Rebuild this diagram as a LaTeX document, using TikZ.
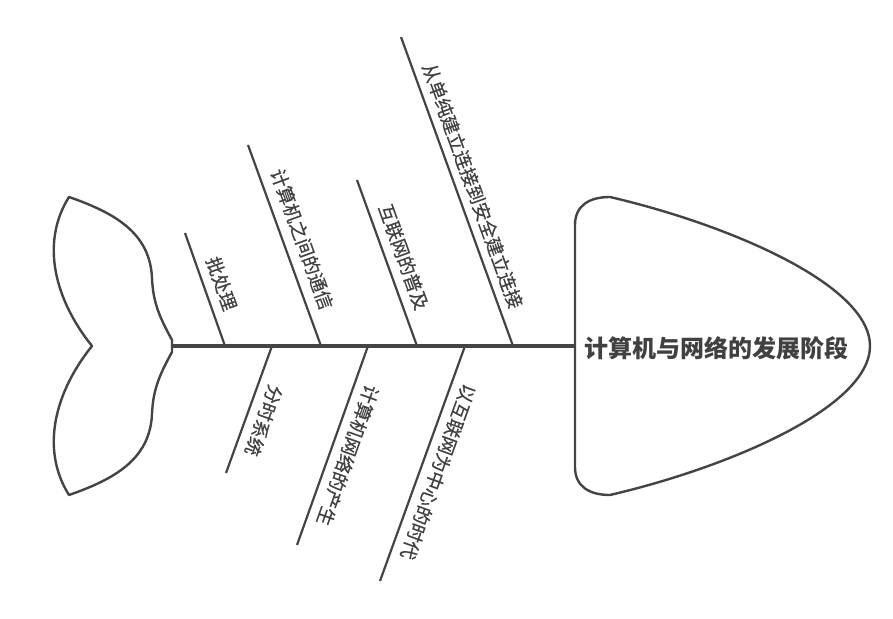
\documentclass[tikz,border=0pt]{standalone}
\usepackage{fontspec}
\newfontfamily\cjk{Noto Sans CJK SC}
\newfontfamily\cjkl[FakeBold=0.5]{Noto Sans CJK SC}
\definecolor{lc}{HTML}{444444}
\definecolor{tc}{HTML}{404040}
\begin{document}
\begin{tikzpicture}[x=1pt,y=1pt,
  outline/.style={draw=lc, line width=2.4pt, line join=round},
  spine/.style={draw=lc, line width=3.6pt},
  bone/.style={draw=lc, line width=2.2pt},
  lbl/.style={font=\cjkl\fontsize{18.5}{18.5}\selectfont, text=tc, inner sep=0pt},
  ttl/.style={font=\cjk\bfseries\fontsize{24}{24}\selectfont, text=tc, inner sep=0pt}]
\useasboundingbox (0,0) rectangle (893,618);
% tail
\draw[outline] (92,272) .. controls (55,318) and (40,375) .. (69,421)
  .. controls (115,405) and (150,385) .. (152,340)
  .. controls (153,315) and (160,300) .. (172,278) -- (172,266)
  .. controls (160,244) and (153,229) .. (152,204)
  .. controls (150,159) and (115,139) .. (69,123)
  .. controls (40,169) and (55,226) .. (92,272) -- cycle;
% head
\draw[outline] (575,272) -- (575,393) .. controls (575,413) and (590,421) .. (610,421)
  .. controls (730,393) and (870,333) .. (870,272)
  .. controls (870,211) and (730,151) .. (610,123)
  .. controls (590,123) and (575,131) .. (575,151) -- cycle;
\node[ttl] (head) at (716,270) {计算机与网络的发展阶段};
\coordinate (tailj) at (172,272);
\coordinate (headj) at (575,272);
\draw[spine] (tailj) -- (headj);
% upper bones
\coordinate (b1t) at (185,385); \coordinate (b1f) at (225,272);
\coordinate (b2t) at (248,473); \coordinate (b2f) at (321,272);
\coordinate (b3t) at (357,438); \coordinate (b3f) at (417,272);
\coordinate (b4t) at (401,581); \coordinate (b4f) at (513,272);
\draw[bone] (b1t) -- (b1f) node[midway, sloped, above=8pt, lbl] (l1) {批处理};
\draw[bone] (b2t) -- (b2f) node[midway, sloped, above=9pt, lbl] (l2) {计算机之间的通信};
\draw[bone] (b3t) -- (b3f) node[midway, sloped, above=8pt, lbl] (l3) {互联网的普及};
\draw[bone] (b4t) -- (b4f) node[midway, sloped, above=7pt, lbl] (l4) {从单纯建立连接到安全建立连接};
% lower bones
\coordinate (c1f) at (272,272); \coordinate (c1t) at (226,145);
\coordinate (c2f) at (368,272); \coordinate (c2t) at (297,73);
\coordinate (c3f) at (465,272); \coordinate (c3t) at (380,37);
\draw[bone] (c1f) -- (c1t) node[pos=0.54, sloped, allow upside down, above=8pt, lbl] (m1) {分时系统};
\draw[bone] (c2f) -- (c2t) node[pos=0.52, sloped, allow upside down, above=8pt, lbl] (m2) {计算机网络的产生};
\draw[bone] (c3f) -- (c3t) node[pos=0.51, sloped, allow upside down, above=8pt, lbl] (m3) {以互联网为中心的时代};
\end{tikzpicture}
\end{document}
